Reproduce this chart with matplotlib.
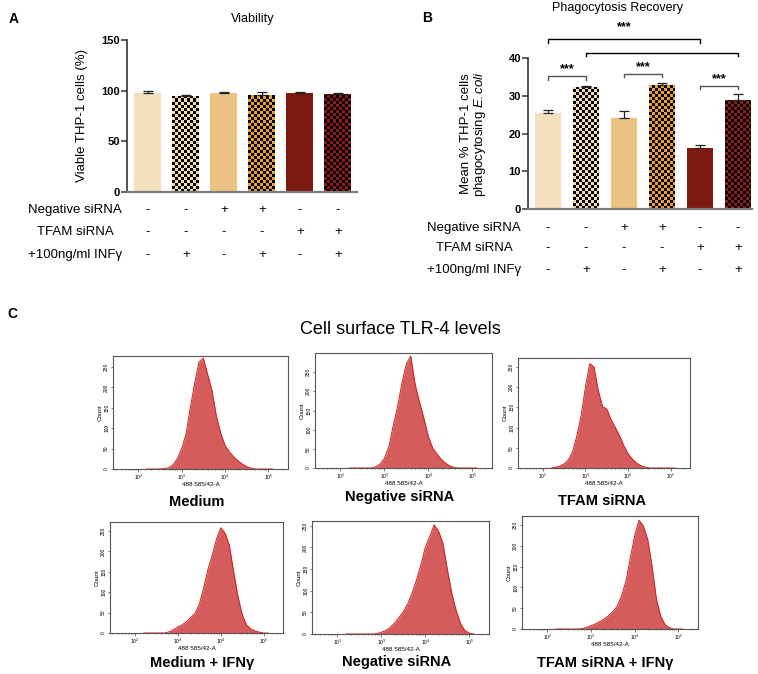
import numpy as np
import matplotlib
matplotlib.use("Agg")
import matplotlib.pyplot as plt
from matplotlib import transforms
from matplotlib.colors import ListedColormap

plt.rcParams["font.family"] = ["Liberation Sans", "DejaVu Sans"]
plt.rcParams["mathtext.fontset"] = "custom"
plt.rcParams["mathtext.it"] = "Liberation Sans:italic"
plt.rcParams["mathtext.rm"] = "Liberation Sans"

# ---- data: bar panels ----
viability = [97.5, 95.2, 97.6, 96.2, 98.0, 97.0]
viability_err = [2.0, 0.7, 0.8, 2.0, 0.6, 0.3]
phago = [25.5, 32.3, 24.2, 32.9, 16.2, 28.8]
phago_err = [0.8, 0.4, 1.8, 0.5, 0.8, 1.6]
bar_colors = ["#f5e0be", "#f3dcb4", "#ecc283", "#e99d3c", "#7d1a10", "#8c1b14"]
checkered = [False, True, False, True, False, True]
neg_sirna = ["-", "-", "+", "+", "-", "-"]
tfam_sirna = ["-", "-", "-", "-", "+", "+"]
ifng = ["-", "+", "-", "+", "-", "+"]
row_labels = ["Negative siRNA", "TFAM siRNA", "+100ng/ml INF\u03b3"]

# ---- data: flow cytometry histograms (log10 fluorescence vs count) ----
LOG_X = [2.2, 2.3, 2.4, 2.5, 2.6, 2.7, 2.8, 2.9, 3.0, 3.1, 3.2, 3.3, 3.4, 3.5, 3.6,
         3.7, 3.8, 3.9, 4.0, 4.1, 4.2, 4.3, 4.4, 4.5, 4.6, 4.7, 4.8, 4.9, 5.0, 5.1]
medium = [0, 0, 0, 0, 1, 3, 10, 25, 50, 85, 150, 210, 262, 272, 232,
          192, 130, 88, 58, 42, 30, 20, 12, 6, 2, 0, 0, 0, 0, 0]
negative = [0, 0, 0, 0, 0, 0, 3, 10, 25, 55, 110, 160, 222, 272, 292,
            218, 172, 130, 82, 52, 36, 22, 12, 5, 1, 0, 0, 0, 0, 0]
tfam = [0, 2, 5, 10, 20, 40, 80, 130, 200, 258, 250, 192, 152, 146, 120,
        100, 80, 55, 35, 22, 12, 6, 2, 0, 0, 0, 0, 0, 0, 0]
medium_ifn = [0, 0, 0, 0, 0, 0, 3, 8, 15, 20, 28, 38, 48, 70, 110,
              155, 190, 230, 258, 245, 215, 150, 90, 45, 20, 10, 5, 2, 0, 0]
negative_ifn = [0, 0, 0, 0, 0, 0, 0, 1, 4, 8, 15, 25, 38, 52, 70,
                95, 125, 160, 200, 225, 252, 238, 210, 150, 95, 55, 25, 8, 2, 0]
tfam_ifn = [0, 0, 0, 0, 0, 0, 1, 4, 8, 12, 18, 24, 32, 42, 55,
            80, 115, 170, 225, 262, 248, 215, 150, 70, 30, 10, 3, 0, 0, 0]
hist_names = ["Medium", "Negative siRNA", "TFAM siRNA",
              "Medium + IFN\u03b3", "Negative siRNA", "TFAM siRNA + IFN\u03b3"]
hist_counts = [medium, negative, tfam, medium_ifn, negative_ifn, tfam_ifn]
hist_ymax = [277, 300, 272, 272, 261, 272]

W, H = 758, 674
fig = plt.figure(figsize=(W / 100, H / 100), dpi=100)


def box(l, t, r, b):
    return [l / W, 1 - b / H, (r - l) / W, (b - t) / H]


def draw_bars(ax, values, errs, width, xlim, ylim, yticks):
    x = np.arange(len(values))
    bars = ax.bar(x, values, width=width, color=bar_colors, zorder=1)
    ax.errorbar(x, values, yerr=[[0] * len(values), errs], fmt="none",
                ecolor="#222222", elinewidth=0.9, capsize=3.5, capthick=0.9, zorder=3)
    ax.set_xlim(*xlim)
    ax.set_ylim(*ylim)
    # checkerboard fill, 3 px cells clipped to the bar
    o = ax.transData.transform((0, 0))
    u = ax.transData.transform((1, 1))
    dx = 3.0 / (u[0] - o[0])
    dy = 3.0 / (u[1] - o[1])
    for i, v in enumerate(values):
        if not checkered[i]:
            continue
        x0 = i - width / 2
        ncol = int(np.ceil(width / dx)) + 1
        nrow = int(np.ceil(v / dy)) + 1
        grid = np.add.outer(np.arange(nrow), np.arange(ncol)) % 2
        im = ax.imshow(grid, extent=(x0, x0 + ncol * dx, 0, nrow * dy),
                       cmap=ListedColormap([bar_colors[i], "black"]),
                       interpolation="nearest", aspect="auto", origin="lower", zorder=2)
        im.set_clip_path(bars[i])
    ax.set_xlim(*xlim)
    ax.set_ylim(*ylim)
    ax.set_yticks(yticks)
    ax.set_xticks([])
    for s in ["top", "right"]:
        ax.spines[s].set_visible(False)
    ax.spines["left"].set_color("#333333")
    ax.spines["left"].set_linewidth(1.2)
    ax.spines["bottom"].set_color("#7a7a7a")
    ax.spines["bottom"].set_linewidth(1.6)
    ax.tick_params(axis="y", length=4, width=1.1, color="#333333", labelsize=8, pad=1)
    for lab in ax.get_yticklabels():
        lab.set_fontweight("bold")


def condition_rows(ax, label_x, rows_y):
    tr = transforms.blended_transform_factory(ax.transData, fig.transFigure)
    for lab, signs, py in zip(row_labels, [neg_sirna, tfam_sirna, ifng], rows_y):
        fig.text(label_x / W, 1 - py / H, lab, ha="center", va="center", fontsize=9.5)
        for i, s in enumerate(signs):
            ax.text(i, 1 - py / H, s, transform=tr, ha="center", va="center", fontsize=9.5)


# ---- Panel A ----
axA = fig.add_axes(box(127, 40, 357, 192))
draw_bars(axA, viability, viability_err, 0.71, (-0.55, 5.5), (0, 150), [0, 50, 100, 150])
axA.set_ylabel("Viable THP-1 cells (%)", fontsize=9.5)
axA.yaxis.set_label_coords(-0.17, 0.5)
fig.text(253 / W, 1 - 19 / H, "Viability", ha="center", va="center", fontsize=9)
fig.text(14 / W, 1 - 19 / H, "A", ha="center", va="center", fontsize=10, fontweight="bold")
condition_rows(axA, 75, [210, 232, 255])

# ---- Panel B ----
axB = fig.add_axes(box(528, 58, 752, 209))
draw_bars(axB, phago, phago_err, 0.68, (-0.53, 5.37), (0, 40), [0, 10, 20, 30, 40])
axB.set_ylabel("Mean % THP-1 cells\nphagocytosing $\\mathit{E.coli}$", fontsize=9.5,
               linespacing=1.0)
axB.yaxis.set_label_coords(-0.18, 0.5)
fig.text(617 / W, 1 - 8 / H, "Phagocytosis Recovery", ha="center", va="center", fontsize=9)
fig.text(427 / W, 1 - 18 / H, "B", ha="center", va="center", fontsize=10, fontweight="bold")
condition_rows(axB, 474, [228, 248, 270])

# (left bar, right bar, bracket height, star offset, label, colour)
brackets = [(0, 4, 45.0, 1.5, "***", "black"), (1, 5, 41.3, 0, "", "black"),
            (0, 1, 35.2, 0.3, "***", "#555555"), (2, 3, 35.8, 0.3, "***", "#555555"),
            (4, 5, 32.6, 0.3, "***", "#555555")]
for a, b, y, off, star, col in brackets:
    axB.plot([a, a, b, b], [y - 0.9, y, y, y - 0.9], color=col, lw=1.0, clip_on=False)
    if star:
        axB.text((a + b) / 2, y + off, star, ha="center", va="bottom", fontsize=9,
                 fontweight="bold", clip_on=False)

# ---- Panel C ----
fig.text(400 / W, 1 - 330 / H, "Cell surface TLR-4 levels", ha="center", va="center", fontsize=13)
fig.text(12 / W, 1 - 314 / H, "C", ha="center", va="center", fontsize=10, fontweight="bold")

hist_boxes = [(113, 356, 288, 469), (315, 353, 492, 468), (518, 358, 690, 468),
              (110, 522, 283, 633), (312, 521, 489, 634), (522, 516, 698, 629)]
name_pos = [(197, 502), (400, 497), (602, 501), (202, 663), (397, 662), (605, 663)]
xs = [10 ** v for v in LOG_X]
for counts, bx, ymax, name, (nx, ny) in zip(hist_counts, hist_boxes, hist_ymax, hist_names, name_pos):
    ax = fig.add_axes(box(*bx))
    ax.fill_between(xs, counts, color="#d45c5c", lw=0)
    ax.plot(xs, counts, color="#d0201c", lw=0.7)
    ax.set_xscale("log")
    ax.set_xlim(10 ** 1.42, 10 ** 5.45)
    ax.set_ylim(0, ymax)
    ax.set_yticks(np.arange(0, ymax, 50))
    ax.set_xticks([1e2, 1e3, 1e4, 1e5])
    ax.tick_params(which="both", labelsize=3.5, length=1.8, width=0.5, pad=1, color="#444444")
    ax.tick_params(which="minor", length=1.0)
    for lab in ax.get_yticklabels():
        lab.set_rotation(90)
        lab.set_va("center")
    for s in ax.spines.values():
        s.set_color("#555555")
        s.set_linewidth(0.8)
    ax.set_ylabel("Count", fontsize=4.5, labelpad=1)
    ax.set_xlabel("488 585/42-A", fontsize=4.5, labelpad=0)
    fig.text(nx / W, 1 - ny / H, name, ha="center", va="center", fontsize=10.5, fontweight="bold")

fig.savefig("out.png", dpi=100)
plt.close(fig)
